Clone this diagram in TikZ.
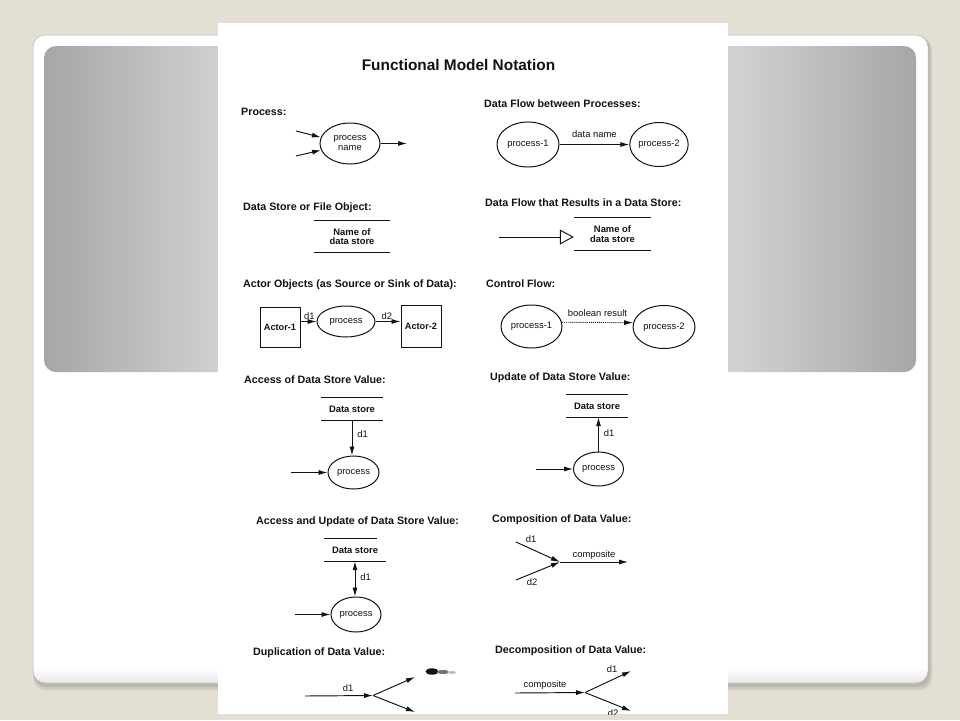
\documentclass[tikz,border=0pt]{standalone}
\usepackage{fontspec}
\setmainfont{Liberation Sans}
\usetikzlibrary{shapes.geometric,arrows.meta}
\definecolor{bgbeige}{RGB}{228,223,212}
\definecolor{ink}{RGB}{18,18,18}
\definecolor{gA}{RGB}{166,166,166}
\definecolor{gB}{RGB}{208,208,208}
\definecolor{gC}{RGB}{232,232,232}
\definecolor{shadowc}{RGB}{150,146,138}
\pgfdeclarehorizontalshading{grayband}{100bp}{color(0bp)=(gA); color(25bp)=(gA); color(35bp)=(gB); color(50bp)=(gC); color(65bp)=(gB); color(75bp)=(gA); color(100bp)=(gA)}
\begin{document}
\begin{tikzpicture}[x=1pt,y=-1pt,
  every node/.style={text=ink},
  heading/.style={anchor=base west, inner sep=0pt, font=\fontsize{10.7}{12}\selectfont\bfseries},
  lbl/.style={font=\fontsize{9.4}{10}\selectfont, inner sep=1pt},
  proc/.style={ellipse, draw=ink, line width=1pt, inner sep=0pt, font=\fontsize{9.4}{10}\selectfont, align=center},
  actor/.style={rectangle, draw=ink, line width=1pt, inner sep=0pt, font=\fontsize{9.2}{10}\selectfont\bfseries},
  store/.style={inner sep=0pt, font=\fontsize{9.4}{9.4}\selectfont\bfseries, align=center},
  sline/.style={line width=1.2pt, draw=ink},
  tipL/.tip={Latex[length=9pt,width=5pt]},
  flow/.style={draw=ink, line width=0.95pt, -tipL},
]
\useasboundingbox (0,0) rectangle (960,720);
% background
\fill[bgbeige] (0,0) rectangle (960,720);
% card shadow
\fill[shadowc, opacity=0.25, rounded corners=13] (33,37) rectangle (932,690);
\fill[shadowc, opacity=0.35, rounded corners=12] (34,37) rectangle (930,687);
% card
\fill[white, rounded corners=12] (33,35) rectangle (928,683);
\begin{scope}
  \clip[rounded corners=12] (33,35) rectangle (928,683);
  \shade[top color=white, bottom color=black!9] (33,668) rectangle (928,683);
\end{scope}
\draw[black!30, line width=0.5pt, rounded corners=12] (33,35) rectangle (928,683);
% gray band
\shade[shading=grayband, rounded corners=12] (44,46) rectangle (916,372);
% scanned page
\begin{scope}
\clip (218,23) rectangle (728,714);
\fill[white] (218,23) rectangle (728,714);

\node[font=\fontsize{15.4}{17}\selectfont\bfseries, anchor=base, inner sep=0pt] (title) at (458.5,70) {Functional Model Notation};

% headings
\node[heading] (hProc) at (241,115) {Process:};
\node[heading] (hDF) at (484,107) {Data Flow between Processes:};
\node[heading] (hDS) at (243,210) {Data Store or File Object:};
\node[heading] (hDFS) at (485,206) {Data Flow that Results in a Data Store:};
\node[heading] (hAct) at (243,287) {Actor Objects (as Source or Sink of Data):};
\node[heading] (hCF) at (486,287) {Control Flow:};
\node[heading] (hAcc) at (244,383) {Access of Data Store Value:};
\node[heading] (hUpd) at (490,380) {Update of Data Store Value:};
\node[heading] (hAU) at (256,524) {Access and Update of Data Store Value:};
\node[heading] (hComp) at (492,522) {Composition of Data Value:};
\node[heading] (hDup) at (253,655) {Duplication of Data Value:};
\node[heading] (hDec) at (495,653) {Decomposition of Data Value:};

% Process
\node[proc, minimum width=60, minimum height=41] (pn) at (350,143.5) {process\\name};
\coordinate (pi1) at (296,131);
\coordinate (pi2) at (296,156);
\coordinate (po) at (407,143.5);
\draw[flow] (pi1) -- (pn.168);
\draw[flow] (pi2) -- (pn.193);
\draw[flow] (pn.east) -- (po);

% Data flow between processes
\node[proc, minimum width=62, minimum height=45] (p1) at (528,144.5) {process-1};
\node[proc, minimum width=58, minimum height=44] (p2) at (659,144.5) {process-2};
\draw[flow] (p1.east) -- node[lbl, above=5.5pt] (ldn) {data name} (p2.west);

% Data store
\node[store, minimum width=76, minimum height=31] (ds1) at (352,236.5) {Name of\\data store};
\draw[sline] (ds1.north west) -- (ds1.north east);
\draw[sline] (ds1.south west) -- (ds1.south east);

% Data flow resulting in data store
\node[store, minimum width=77, minimum height=32] (ds2) at (612.5,234) {Name of\\data store};
\draw[sline] (ds2.north west) -- (ds2.north east);
\draw[sline] (ds2.south west) -- (ds2.south east);
\coordinate (dsrc) at (499,237);
\draw[draw=ink, line width=0.95pt, -{Triangle[open,length=14pt,width=15pt]}] (dsrc) -- (dsrc -| ds2.west);

% Actors
\node[actor, minimum width=40, minimum height=40] (a1) at (280,327) {Actor-1};
\node[proc, minimum width=58, minimum height=31] (pa) at (346,321.5) {process};
\node[actor, minimum width=40, minimum height=42] (a2) at (421,326) {Actor-2};
\draw[flow] (a1.east |- pa.west) -- node[lbl, above, pos=0.55] (ld1a) {d1} (pa.west);
\draw[flow] (pa.east) -- node[lbl, above, pos=0.45] (ld2a) {d2} (pa.east -| a2.west);

% Control flow
\node[proc, minimum width=61, minimum height=43] (c1) at (531.5,326.5) {process-1};
\node[proc, minimum width=62, minimum height=43] (c2) at (664,327) {process-2};
\draw[flow, densely dotted] (c1.8) -- node[lbl, above=4.5pt] (lbr) {boolean result} (c2.172);

% Access of data store value
\node[store, minimum width=62, minimum height=22] (ds3) at (352,409) {Data store};
\draw[sline] (ds3.north west) -- (ds3.north east);
\draw[sline] (ds3.south west) -- (ds3.south east);
\node[proc, minimum width=51, minimum height=33] (pr3) at (353.5,472.5) {process};
\draw[flow] (ds3.south) -- node[lbl, right=4pt, pos=0.4] (ld3) {d1} (ds3.south |- pr3.north);
\coordinate (in3) at (291,472.5);
\draw[flow] (in3) -- (pr3.west);

% Update of data store value
\node[store, minimum width=62, minimum height=22] (ds4) at (597,406) {Data store};
\draw[sline] (ds4.north west) -- (ds4.north east);
\draw[sline] (ds4.south west) -- (ds4.south east);
\node[proc, minimum width=50, minimum height=34] (pr4) at (598.5,469) {process};
\draw[flow] (pr4.north) -- node[lbl, right=4pt, pos=0.55] (ld4) {d1} (pr4.north |- ds4.south);
\coordinate (in4) at (536,469);
\draw[flow] (in4) -- (pr4.west);

% Access and update
\node[store, minimum width=61, minimum height=22] (ds5) at (355,550) {Data store};
\draw[sline] (ds5.north west) -- ([xshift=-9pt]ds5.north east);
\draw[sline] (ds5.south west) -- (ds5.south east);
\node[proc, minimum width=50, minimum height=35] (pr5) at (356,614.5) {process};
\draw[draw=ink, line width=0.95pt, tipL-tipL] (ds5.south) -- node[lbl, right=4pt, pos=0.45] (ld5) {d1} (ds5.south |- pr5.north);
\coordinate (in5) at (295,614.5);
\draw[flow] (in5) -- (pr5.west);

% Composition
\coordinate (cj) at (560,562);
\coordinate (cd1) at (516,542);
\coordinate (cd2) at (516,580);
\coordinate (cout) at (628,562);
\draw[flow] (cd1) -- (cj);
\draw[flow] (cd2) -- (cj);
\draw[flow] (cj) -- (cout);
\node[lbl] (lcd1) at (531,539) {d1};
\node[lbl] (lcd2) at (532,582.5) {d2};
\node[lbl] (lcomp) at (594,555) {composite};

% Duplication
\coordinate (din) at (305,696);
\coordinate (dj) at (373,695.5);
\coordinate (do1) at (415,677);
\coordinate (do2) at (415,712);
\draw[flow] (din) -- (dj);
\draw[flow] (dj) -- (do1);
\draw[flow] (dj) -- (do2);
\node[lbl] (ldd1) at (348,688) {d1};
\fill[ink] (432,671.5) ellipse [x radius=6.5, y radius=3.2];
\fill[black!55] (443,672) ellipse [x radius=6, y radius=2];
\fill[black!25] (452,672.5) ellipse [x radius=4, y radius=1.5];

% Decomposition
\coordinate (xin) at (515,693);
\coordinate (xj) at (585,692.5);
\coordinate (xo1) at (631,671);
\coordinate (xo2) at (631,711);
\draw[flow] (xin) -- (xj);
\draw[flow] (xj) -- (xo1);
\draw[flow] (xj) -- (xo2);
\node[lbl] (lxc) at (545,685) {composite};
\node[lbl] (lxd1) at (612,669.5) {d1};
\node[lbl] (lxd2) at (613,713) {d2};
\end{scope}
\end{tikzpicture}
\end{document}
